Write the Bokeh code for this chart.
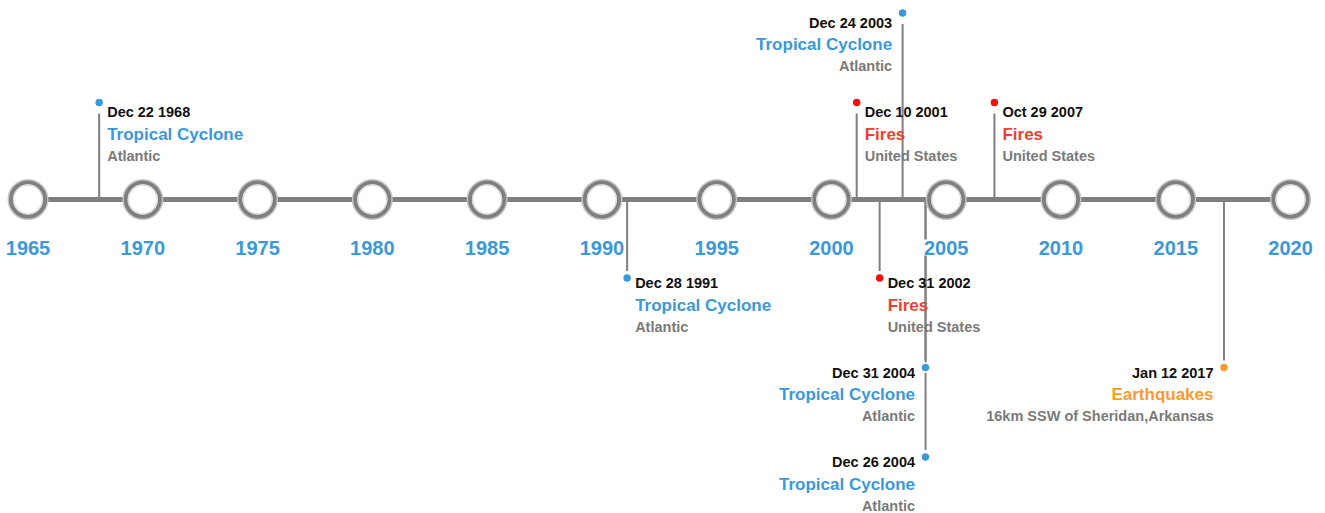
from bokeh.plotting import figure
from bokeh.models import ColumnDataSource, Range1d
from bokeh.transform import dodge
from bokeh.core.properties import value
from bokeh.embed import file_html
from bokeh.resources import INLINE

# ---------------- data ----------------
tick_years = [1965, 1970, 1975, 1980, 1985, 1990, 1995, 2000, 2005, 2010, 2015, 2020]
tick_labels = [str(y) for y in tick_years]

event_dates = ["Dec 22 1968", "Dec 28 1991", "Dec 10 2001", "Dec 31 2002", "Dec 24 2003",
               "Dec 31 2004", "Dec 26 2004", "Oct 29 2007", "Jan 12 2017"]
event_years = [1968, 1991, 2001, 2002, 2003, 2004, 2004, 2007, 2017]
event_types = ["Tropical Cyclone", "Tropical Cyclone", "Fires", "Fires", "Tropical Cyclone",
               "Tropical Cyclone", "Tropical Cyclone", "Fires", "Earthquakes"]
event_places = ["Atlantic", "Atlantic", "United States", "United States", "Atlantic",
                "Atlantic", "Atlantic", "United States", "16km SSW of Sheridan,Arkansas"]
event_levels = [1, -1, 1, -1, 2, -2, -3, 1, -2]          # + above timeline, - below
event_sides = ["right", "right", "right", "right", "left", "left", "left", "right", "left"]

# ---------------- style ----------------
FONT = "Liberation Sans"
GRAY = "#7f7f7f"
BLUE = "#3b99d6"
TYPE_TEXT_COLOR = {"Tropical Cyclone": "#3b99d6", "Fires": "#ee4231", "Earthquakes": "#fd9a2e"}
TYPE_DOT_COLOR = {"Tropical Cyclone": "#3b99d6", "Fires": "#f20f0f", "Earthquakes": "#fd9a2e"}
BASE_ABOVE, BASE_BELOW, LEVEL_GAP = 97.0, 78.5, 89.5
EVENT_NUDGE = 0.1
DATE_FS, TYPE_FS, PLACE_FS, YEAR_FS = 14.5, 17, 14.5, 20

W, H = 1325, 513
p = figure(width=W, height=H, output_backend="svg", toolbar_location=None,
           x_range=Range1d(1963.802, 2021.523), y_range=Range1d(-314, 199),
           min_border=0)
p.axis.visible = False
p.grid.visible = False
p.outline_line_color = None

# event geometry
dot_y, stem_end, cc = [], [], []
for lvl in event_levels:
    s = 1 if lvl > 0 else -1
    base = BASE_ABOVE if lvl > 0 else BASE_BELOW
    d = s * (base + (abs(lvl) - 1) * LEVEL_GAP)
    dot_y.append(d)
    stem_end.append(d - 11 if lvl > 0 else d + 7)
    cc.append(d - 9.5 if lvl > 0 else d - 5)

src = ColumnDataSource(dict(
    x=event_years, y0=[0] * len(event_years), y1=stem_end, dy=dot_y,
    date=event_dates, typ=event_types, place=event_places, side=event_sides,
    date_y=[c for c in cc],
    typ_y=[c - 22 for c in cc],
    place_y=[c - 43.5 for c in cc],
    tcol=[TYPE_TEXT_COLOR[t] for t in event_types],
    dcol=[TYPE_DOT_COLOR[t] for t in event_types],
    align=["left" if s == "right" else "right" for s in event_sides],
    xoff=[8 if s == "right" else -10.5 for s in event_sides],
))
xs = dodge("x", EVENT_NUDGE, range=p.x_range)

# stems
p.segment(x0=xs, y0="y0", x1=xs, y1="y1", source=src, line_color=GRAY, line_width=2)

# timeline line
p.segment(x0=[tick_years[0]], y0=[0], x1=[tick_years[-1]], y1=[0], line_color=GRAY, line_width=5)

# circles (with soft halo)
tsrc = ColumnDataSource(dict(x=tick_years, y=[0] * len(tick_years), label=tick_labels,
                             ly=[-48] * len(tick_years)))
p.scatter("x", "y", source=tsrc, size=39, fill_color=None, line_color="#c4c4c4", line_width=2)
p.scatter("x", "y", source=tsrc, size=34, fill_color="white", line_color=GRAY, line_width=4)
p.scatter("x", "y", source=tsrc, size=29, fill_color=None, line_color="#dadada", line_width=1.5)

# year labels
p.text("x", "ly", text="label", source=tsrc, text_align="center", text_baseline="alphabetic",
       text_font=value(FONT), text_font_style="bold", text_font_size=f"{YEAR_FS}px",
       text_color=BLUE, background_fill_color="white", padding=1)

# dots
p.scatter(xs, "dy", source=src, size=9, fill_color="dcol", line_color="white", line_width=1.5)

# texts
common = dict(source=src, x=xs, text_align="align", x_offset="xoff", text_baseline="alphabetic",
              text_font=value(FONT), text_font_style="bold")
p.text(y="date_y", text="date", text_color="#111111", text_font_size=f"{DATE_FS}px", **common)
p.text(y="typ_y", text="typ", text_color="tcol", text_font_size=f"{TYPE_FS}px", **common)
p.text(y="place_y", text="place", text_color="#7a7a7a", text_font_size=f"{PLACE_FS}px", **common)

open("out.html", "w").write(file_html(p, INLINE))
